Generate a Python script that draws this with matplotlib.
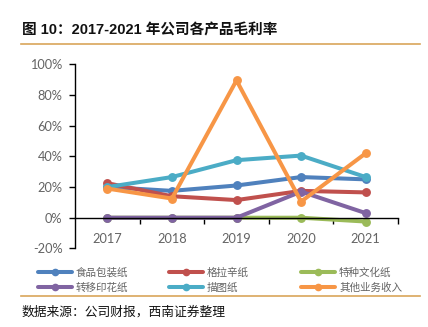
import matplotlib
matplotlib.use("Agg")
import matplotlib.pyplot as plt
from matplotlib.lines import Line2D
import numpy as np

# ---- data ----
years = ["2017", "2018", "2019", "2020", "2021"]
series_names = ["食品包装纸", "格拉辛纸", "特种文化纸", "转移印花纸", "描图纸", "其他业务收入"]
food_packaging = [20.0, 17.5, 21.0, 26.5, 25.0]
glassine = [22.5, 14.0, 11.5, 17.5, 16.5]
specialty_culture = [0.0, 0.0, 0.0, 0.0, -2.5]
transfer_printing = [0.0, 0.0, 0.0, 17.0, 3.0]
tracing = [20.0, 26.5, 37.5, 40.5, 26.5]
other_business = [19.0, 12.5, 89.5, 10.5, 42.0]
yticks = [-20, 0, 20, 40, 60, 80, 100]

series_values = [food_packaging, glassine, specialty_culture,
                 transfer_printing, tracing, other_business]
colors = ["#4F81BD", "#C0504D", "#9BBB59", "#8064A2", "#4BACC6", "#F79646"]

W, H = 428, 327
fig = plt.figure(figsize=(W / 100, H / 100), dpi=100)
fig.patch.set_facecolor("white")

cjk = ["Noto Sans CJK SC", "DejaVu Sans"]
latin_cjk = ["Liberation Sans", "Noto Sans CJK SC"]
tick_font = ["Lato", "DejaVu Sans"]
gray = "#646464"
gold = "#D9A55A"

# title and rules
fig.text(22 / W, 1 - 30 / H, "图 10：2017-2021 年公司各产品毛利率",
         family=latin_cjk, fontweight="bold", fontsize=10.5,
         color="#111111", va="center", ha="left")
fig.add_artist(Line2D([21 / W, 420 / W], [1 - 44.3 / H, 1 - 44.3 / H],
                      transform=fig.transFigure, color=gold, lw=1.2))
fig.add_artist(Line2D([21 / W, 420 / W], [1 - 295.5 / H, 1 - 295.5 / H],
                      transform=fig.transFigure, color=gold, lw=1.2))
fig.text(22 / W, 1 - 312.5 / H, "数据来源：公司财报，西南证券整理",
         family=cjk, fontsize=9.2, color="#111111", va="center", ha="left")

# plot area
ax = fig.add_axes([75 / W, 1 - 248.4 / H, 323 / W, 184.1 / H])
x = np.arange(len(years))
for name, vals, c in zip(series_names, series_values, colors):
    ax.plot(x, np.array(vals) / 100.0, color=c, lw=2.9,
            marker="o", markersize=6.4, markeredgewidth=0,
            solid_capstyle="round", label=name)

ax.set_xlim(-0.5, len(years) - 0.5)
ax.set_ylim(-0.2, 1.0)
for s in ["top", "right"]:
    ax.spines[s].set_visible(False)
ax.spines["bottom"].set_position(("data", 0))
ax.spines["bottom"].set_color("black")
ax.spines["bottom"].set_linewidth(1.0)
ax.spines["left"].set_color("black")
ax.spines["left"].set_linewidth(1.0)

ax.set_yticks(np.array(yticks) / 100.0)
ax.set_yticklabels([f"{v}%" for v in yticks], family=tick_font,
                   fontsize=9.2, color=gray)
ax.tick_params(axis="y", direction="out", length=4, width=1.0,
               color="black", pad=5)

ax.set_xticks(x)
ax.set_xticklabels(years, family=tick_font, fontsize=9.2, color=gray)
ax.set_xticks(np.arange(0.5, len(years)), minor=True)
ax.tick_params(axis="x", which="major", length=0, pad=11)
ax.tick_params(axis="x", which="minor", direction="out", length=4,
               width=1.0, color="black")
ax.patch.set_alpha(0)

# legend: three columns of two rows
col_x = [38, 169, 301]
order = [[0, 3], [1, 4], [2, 5]]
for cx, idxs in zip(col_x, order):
    handles = [Line2D([0], [0], color=colors[i], lw=2.9, marker="o",
                      markersize=5.5, markeredgewidth=0,
                      solid_capstyle="round") for i in idxs]
    labels = [series_names[i] for i in idxs]
    leg = fig.legend(handles, labels, loc="center left",
                     bbox_to_anchor=(cx / W, 1 - 280 / H),
                     frameon=False, borderpad=0, borderaxespad=0,
                     handlelength=3.2, handletextpad=0.4,
                     labelspacing=0.45,
                     prop={"family": cjk, "size": 7.6})
    for t in leg.get_texts():
        t.set_color(gray)

fig.savefig("out.png", dpi=100, facecolor="white")
